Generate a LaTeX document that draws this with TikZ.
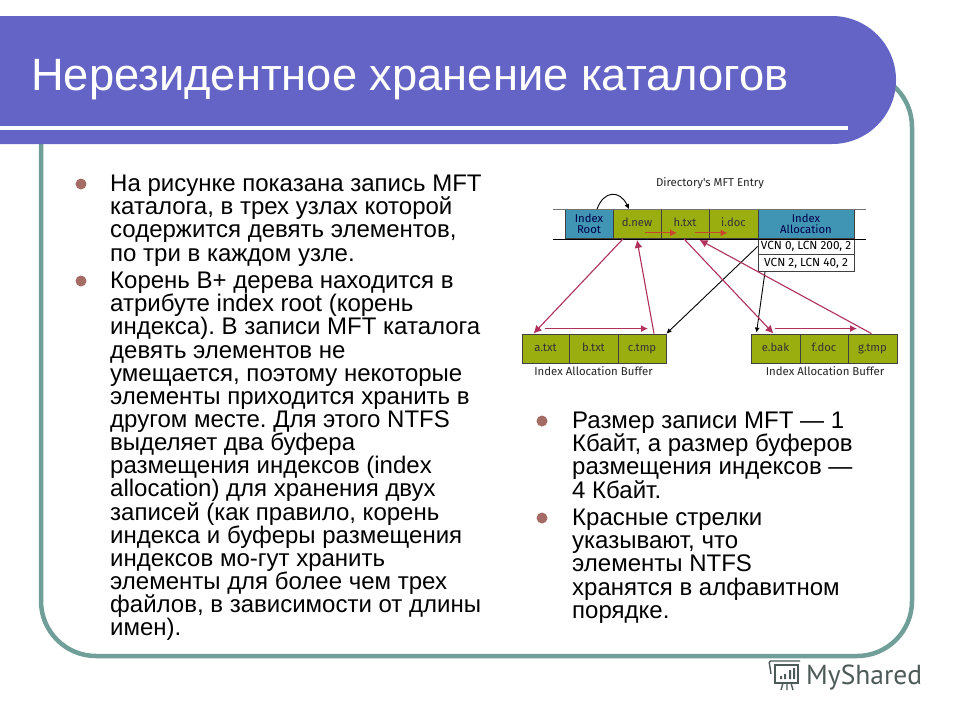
\documentclass[tikz,border=0pt]{standalone}
\usepackage{fontspec}
\usetikzlibrary{arrows.meta}
\setmainfont{Liberation Sans}
\newfontfamily\cellfont{Fira Sans}
\newfontfamily\logofont{PT Sans}
\frenchspacing
\definecolor{headblue}{HTML}{6464C6}
\definecolor{frameteal}{HTML}{6F9F98}
\definecolor{dotbrown}{HTML}{A56C66}
\definecolor{cellolive}{HTML}{9BAE10}
\definecolor{cellblue}{HTML}{4094B4}
\definecolor{linkred}{HTML}{B0305C}
\definecolor{nextred}{HTML}{C8442C}
\definecolor{logogrey}{HTML}{4E5A58}
\begin{document}
\begin{tikzpicture}[x=1pt,y=-1pt,
    para/.style={anchor=north west,inner sep=0,align=left,font=\frenchspacing\fontsize{24}{23.13}\selectfont},
    dot/.style={circle,fill=dotbrown,inner sep=0,minimum size=11pt},
    cell/.style={draw=black!75,line width=0.8pt,inner sep=0,minimum height=#1,align=center,
      font=\cellfont\fontsize{11.3}{11}\selectfont,text=black!80},
    cell/.default=29pt,
    oliv/.style={cell,fill=cellolive,text height=8pt,text depth=2.5pt},
    blu/.style={cell,fill=cellblue,text=blue!30!black},
    vcn/.style={cell=17pt,fill=white,minimum width=96pt,font=\cellfont\fontsize{11.8}{11.8}\selectfont,text=black},
    capt/.style={font=\cellfont\fontsize{11.4}{11.4}\selectfont,text=black!85,inner sep=0},
    link/.style={-{Latex[length=8pt,width=8pt]},linkred,line width=1.1pt},
    nextlink/.style={-{Latex[length=7pt,width=7pt]},nextred,line width=1.1pt},
    sidelink/.style={-{Latex[length=7pt,width=7pt]},linkred,line width=1.2pt},
    ptr/.style={-{Latex[length=5pt,width=5pt]},black,line width=0.9pt}]
  \useasboundingbox (0,0) rectangle (960,720);
  \fill [white] (0,0) rectangle (960,720);
  % frame and header
  \draw [frameteal,line width=4.5pt,rounded corners=55pt] (41,72) rectangle (912,656);
  \fill [headblue] (0,16) -- (832,16) arc (-90:90:64) -- (0,144) -- cycle;
  \fill [white] (0,126) rectangle (848,130);
  \node (title) [anchor=base west,inner sep=0,text=white,font=\fontsize{45.3}{45.3}\selectfont] at (31,90)
    {Нерезидентное хранение каталогов};

  % left text
  \node (dotA) [dot] at (81,184) {};
  \node (paraA) [para] at (110,175) {На рисунке показана запись MFT\\каталога, в трех узлах которой\\содержится девять элементов,\\по три в каждом узле.};
  \node (dotB) [dot] at (81,281) {};
  \node (paraB) [para] at (110,272) {Корень B+ дерева находится в\\атрибуте index root (корень\\индекса). В записи MFT каталога\\девять элементов не\\умещается, поэтому некоторые\\элементы приходится хранить в\\другом месте. Для этого NTFS\\выделяет два буфера\\размещения индексов (index\\allocation) для хранения двух\\записей (как правило, корень\\индекса и буферы размещения\\индексов мо-гут хранить\\элементы для более чем трех\\файлов, в зависимости от длины\\имен).};

  % right text
  \node (dotC) [dot] at (542,421) {};
  \node (paraC) [para] at (572,412) {Размер записи MFT — 1\\Кбайт, а размер буферов\\размещения индексов —\\4 Кбайт.};
  \node (dotD) [dot] at (542,518) {};
  \node (paraD) [para] at (572,509) {Красные стрелки\\указывают, что\\элементы NTFS\\хранятся в алфавитном\\порядке.};

  % mft entry
  \node (entry) [capt] at (710,183) {Directory's MFT Entry};
  \node (iroot) [blu,minimum width=48pt] at (589,224) {Index\\Root};
  \node (dnew) [oliv,minimum width=48pt] at (637,224) {d.new};
  \node (htxt) [oliv,minimum width=48pt] at (685,224) {h.txt};
  \node (idoc) [oliv,minimum width=49pt] at (733.5,224) {i.doc};
  \node (ialloc) [blu,minimum width=96pt] at (806,224) {Index\\Allocation};
  \node (vcnA) [vcn] at (806,246.5) {VCN 0, LCN 200, 2};
  \node (vcnB) [vcn] at (806,263) {VCN 2, LCN 40, 2};
  \draw [black!55,line width=1pt] ([xshift=-12pt]iroot.north west) -- ([xshift=12pt]ialloc.north east);
  \draw [black,line width=0.8pt] ([xshift=-12pt]iroot.south west) -- ([xshift=12pt]ialloc.south east);

  % buffers
  \node (atxt) [oliv,minimum width=47pt] at (545.5,348.5) {a.txt};
  \node (btxt) [oliv,minimum width=49pt] at (593.5,348.5) {b.txt};
  \node (ctmp) [oliv,minimum width=48pt] at (642,348.5) {c.tmp};
  \node (ebak) [oliv,minimum width=49pt] at (775.5,348.5) {e.bak};
  \node (fdoc) [oliv,minimum width=48pt] at (824,348.5) {f.doc};
  \node (gtmp) [oliv,minimum width=49pt] at (872.5,348.5) {g.tmp};
  \node (bufA) [capt] at (593.5,371) {Index Allocation Buffer};
  \node (bufB) [capt] at (825,371) {Index Allocation Buffer};

  % pointers
  \draw [ptr] ([xshift=8pt]iroot.north) .. controls (604,190) and (620,190) .. ([xshift=-8pt]dnew.north);
  \draw [ptr] (vcnA.west) -- (ctmp.north east);
  \draw [ptr] ([xshift=-41pt]vcnB.south) -- ([xshift=-19pt,yshift=1pt]ebak.north);
  \draw [link] ([xshift=-14pt]dnew.south) -- ([xshift=-12pt]atxt.north);
  \draw [link] ([xshift=12pt]ctmp.north) -- ([yshift=-1pt]dnew.south);
  \draw [link] ([xshift=-1pt]htxt.south) -- ([xshift=-2pt]ebak.north);
  \draw [link] ([xshift=-1pt]gtmp.north) -- ([xshift=-34pt,yshift=-1pt]idoc.south);
  \draw [nextlink] ([xshift=8pt,yshift=6pt]dnew.south) -- ([xshift=-8pt,yshift=6pt]htxt.south);
  \draw [nextlink] ([xshift=10pt,yshift=6pt]htxt.south) -- ([xshift=-6pt,yshift=6pt]idoc.south);
  \draw [sidelink] ([xshift=-1pt,yshift=5pt]atxt.north) -- ([xshift=6pt,yshift=5pt]ctmp.north);
  \draw [sidelink] ([xshift=-1pt,yshift=5pt]ebak.north) -- ([xshift=33pt,yshift=5pt]fdoc.north);

  % logo
  \node (logo) [anchor=base west,inner sep=0,text=logogrey,font=\logofont\fontsize{27.5}{27.5}\selectfont] at (806,684) {MyShared};
  \draw [logogrey,line width=1.4pt] (775,665) rectangle (798,683);
  \draw [logogrey,line width=1.4pt,rounded corners=1.5pt] (771,674) -- (769,661) -- (800,661);
  \draw [logogrey,line width=1.4pt] (783,683) -- (781,690) (787,683) -- (787,690) (791,683) -- (793,690);
  \fill [logogrey] (780,676) rectangle (782,679) (784,674) rectangle (786,679) (789,670) rectangle (791,679) (793,668) rectangle (795,679);
\end{tikzpicture}
\end{document}
